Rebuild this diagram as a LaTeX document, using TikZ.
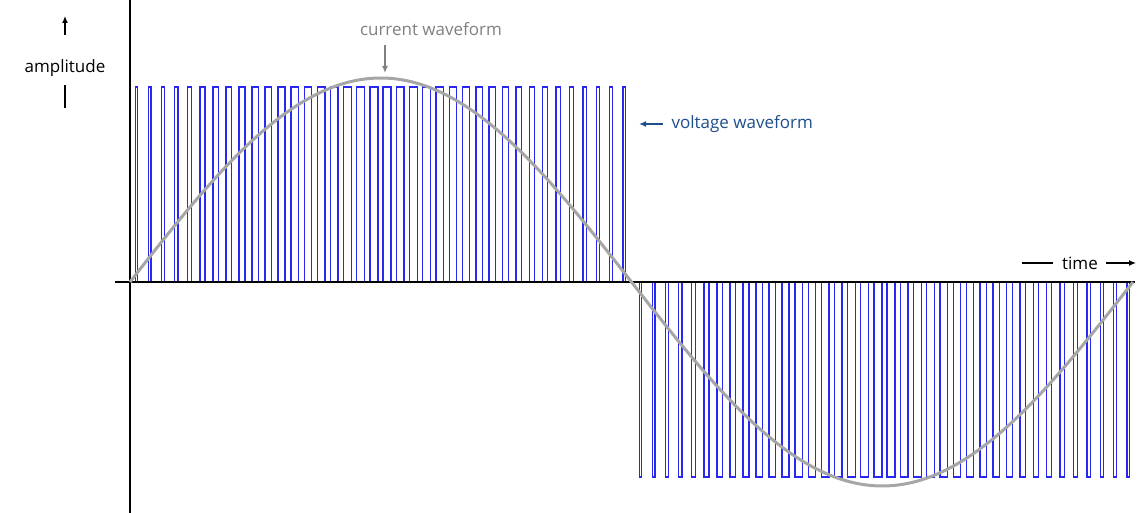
\documentclass[tikz,border=0pt]{standalone}
\usepackage{fontspec}
\setmainfont{Open Sans}
\usetikzlibrary{arrows.meta}
\definecolor{vblue}{RGB}{31,78,140}
\definecolor{pblue}{RGB}{40,40,240}
\begin{document}
\begin{tikzpicture}[x=1pt,y=1pt,
  pulse/.style={pblue,line width=1.4pt},
  lbl/.style={font=\fontsize{17}{20}\selectfont},
  arr/.style={-{Latex[length=7pt,width=6pt]},line width=1.3pt}]
\useasboundingbox (0,0) rectangle (1144,513);
% pulses
\foreach \i in {0,...,37}{
  \pgfmathsetmacro{\xc}{130+(\i+0.5)*13.18}
  \pgfmathsetmacro{\w}{2+6*sin(180*(\i+0.5)/38)}
  \draw[pulse] (\xc-\w/2,231) -- (\xc-\w/2,426) -- (\xc+\w/2,426) -- (\xc+\w/2,231);
  \pgfmathsetmacro{\xd}{634+(\i+0.5)*13.18}
  \draw[pulse] (\xd-\w/2,231) -- (\xd-\w/2,36) -- (\xd+\w/2,36) -- (\xd+\w/2,231);
}
% axes
\coordinate (xa) at (115,231); \coordinate (xb) at (1135,231);
\coordinate (ya) at (130,0); \coordinate (yb) at (130,513);
\draw[line width=2pt] (xa) -- (xb);
\draw[line width=2pt] (ya) -- (yb);
% sine
\draw[gray!70,line width=3pt,domain=0:360,samples=200] plot ({130+\x/360*1003},{231+204*sin(\x)});
% labels
\node[lbl] (amp) at (65,445) {amplitude};
\coordinate (a1) at (65,478); \coordinate (a2) at (65,497);
\draw[arr] (a1) -- (a2);
\coordinate (a3) at (65,428); \coordinate (a4) at (65,405);
\draw[line width=1.3pt] (a3) -- (a4);
\node[lbl,text=gray] (cur) at (431,484) {current waveform};
\coordinate (c1) at (385,468); \coordinate (c2) at (385,440);
\draw[arr,gray,line width=2pt] (c1) -- (c2);
\node[lbl,text=vblue,anchor=west] (volt) at (668,389) {voltage waveform};
\coordinate (v1) at (663,389); \coordinate (v2) at (639,389);
\draw[arr,vblue,line width=2.5pt] (v1) -- (v2);
\node[lbl] (time) at (1080,250) {time};
\coordinate (t1) at (1022,250); \coordinate (t2) at (1053,250);
\draw[line width=1.3pt] (t1) -- (t2);
\coordinate (t3) at (1106,250); \coordinate (t4) at (1136,250);
\draw[arr] (t3) -- (t4);
\end{tikzpicture}
\end{document}
